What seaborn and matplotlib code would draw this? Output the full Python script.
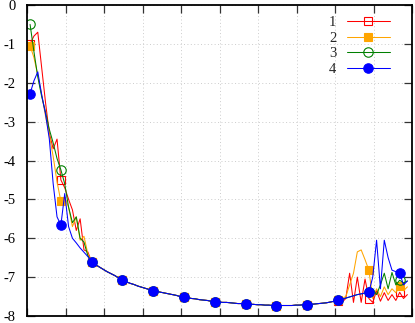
import numpy as np
import pandas as pd
import matplotlib
matplotlib.use("Agg")
import matplotlib.pyplot as plt
import seaborn as sns

# ---------------- data ----------------
labels = ["1", "2", "3", "4"]
colors = ["#ff0000", "#ffa500", "#008000", "#0000ff"]
x_start, x_step, n_pts = 0.08, 0.1, 99
mark_every = 8

# head (i = 0..16)
head_1 = [-1.0, -0.8, -0.7, -1.6, -2.5, -3.3, -3.7, -3.45, -4.5, -4.7, -5.0, -5.27, -5.8, -5.5, -6.3, -6.35, -6.61]
head_2 = [-1.05, -1.35, -1.8, -2.3, -2.85, -3.35, -3.9, -4.55, -5.05, -4.95, -5.2, -5.7, -5.45, -6.05, -5.95, -6.4, -6.61]
head_3 = [-0.5, -1.2, -1.85, -2.35, -2.75, -3.2, -3.55, -3.95, -4.24, -4.6, -5.2, -5.6, -5.45, -6.0, -6.1, -6.45, -6.61]
head_4 = [-2.28, -1.95, -1.72, -2.3, -2.8, -3.45, -4.6, -5.45, -5.66, -4.85, -5.7, -6.0, -6.12, -6.25, -6.36, -6.47, -6.61]

# shared middle (i = 17..79)
middle = [-6.68, -6.74, -6.80, -6.86, -6.91, -6.96, -7.02, -7.08, -7.12, -7.16,
          -7.19, -7.23, -7.26, -7.29, -7.32, -7.35, -7.37, -7.39, -7.41, -7.43,
          -7.45, -7.47, -7.50, -7.52, -7.53, -7.55, -7.56, -7.58, -7.59, -7.60,
          -7.62, -7.63, -7.64, -7.65, -7.65, -7.66, -7.67, -7.68, -7.68, -7.69,
          -7.70, -7.70, -7.71, -7.71, -7.72, -7.72, -7.73, -7.73, -7.73, -7.73,
          -7.73, -7.73, -7.72, -7.72, -7.71, -7.71, -7.70, -7.69, -7.68, -7.67,
          -7.66, -7.64, -7.62]

# tail (i = 80..98)
tail_1 = [-7.62, -7.65, -7.55, -6.9, -7.65, -7.0, -7.65, -7.05, -7.55, -7.65, -7.35, -7.62, -7.4, -7.6, -7.45, -7.6, -7.39, -7.55, -7.45]
tail_2 = [-7.6, -7.55, -7.5, -7.2, -6.9, -6.35, -6.3, -6.55, -6.82, -7.55, -7.3, -7.5, -7.25, -7.45, -7.3, -7.4, -7.24, -7.35, -7.25]
tail_3 = [-7.6, -7.57, -7.54, -7.51, -7.48, -7.45, -7.43, -7.41, -7.39, -7.3, -7.45, -7.2, -6.9, -7.3, -6.88, -7.2, -7.08, -7.15, -7.1]
tail_4 = [-7.6, -7.57, -7.54, -7.51, -7.48, -7.45, -7.43, -7.41, -7.39, -7.0, -6.05, -7.3, -6.05, -6.5, -6.82, -6.86, -6.9, -7.2, -7.1]

y_ticks = [0, -1, -2, -3, -4, -5, -6, -7, -8]
x_ticks = list(range(0, 11))

# ---------------- build table ----------------
x = np.round(x_start + x_step * np.arange(n_pts), 3)
series = {
    "1": head_1 + middle + tail_1,
    "2": head_2 + middle + tail_2,
    "3": head_3 + middle + tail_3,
    "4": head_4 + middle + tail_4,
}
df = pd.concat([pd.DataFrame({"x": x, "y": series[k], "s": k}) for k in labels])

# ---------------- style ----------------
sns.set_theme(style="white")
plt.rcParams["font.family"] = ["Liberation Serif", "DejaVu Serif"]
plt.rcParams["axes.unicode_minus"] = False

fig = plt.figure(figsize=(4.15, 3.23), dpi=100)
ax = fig.add_axes([27 / 415, 1 - 316 / 323, (412 - 27) / 415, (316 - 5) / 323])

marker_specs = {
    "1": dict(marker="s", markersize=6.0, markerfacecolor="none"),
    "2": dict(marker="s", markersize=6.0),
    "3": dict(marker="o", markersize=6.8, markerfacecolor="none"),
    "4": dict(marker="o", markersize=6.8),
}

for lab, col in zip(labels, colors):
    d = df[df["s"] == lab]
    spec = dict(marker_specs[lab])
    if spec.get("markerfacecolor") != "none":
        spec["markerfacecolor"] = col
    sns.lineplot(data=d, x="x", y="y", ax=ax, color=col, linewidth=0.75,
                 markevery=mark_every, markeredgecolor=col, markeredgewidth=0.8,
                 label=lab, sort=False, estimator=None, **spec)

ax.set_xlim(0, 10)
ax.set_ylim(-8, 0)
ax.set_xticks(x_ticks)
ax.set_xticklabels([])
ax.set_yticks(y_ticks)
ax.set_yticklabels([str(v) for v in y_ticks])
ax.set_xlabel("")
ax.set_ylabel("")

ax.grid(True, linestyle=(0, (1, 2.5)), color="#cccccc", linewidth=0.7)
ax.set_axisbelow(True)
for sp in ax.spines.values():
    sp.set_color("black")
    sp.set_linewidth(1.3)
ax.tick_params(direction="in", length=6, width=0.9, color="#333333",
               top=True, right=True, bottom=True, left=True,
               labelsize=10.5, pad=8, labelcolor="black")

leg = ax.legend(loc="upper left", bbox_to_anchor=(329 / 415, 1 - 16 / 323),
                bbox_transform=fig.transFigure, frameon=False, markerfirst=False,
                handlelength=3.0, handletextpad=0.7, labelspacing=0.16,
                borderpad=0, borderaxespad=0, fontsize=10.5)

fig.savefig("out.png", dpi=100)
